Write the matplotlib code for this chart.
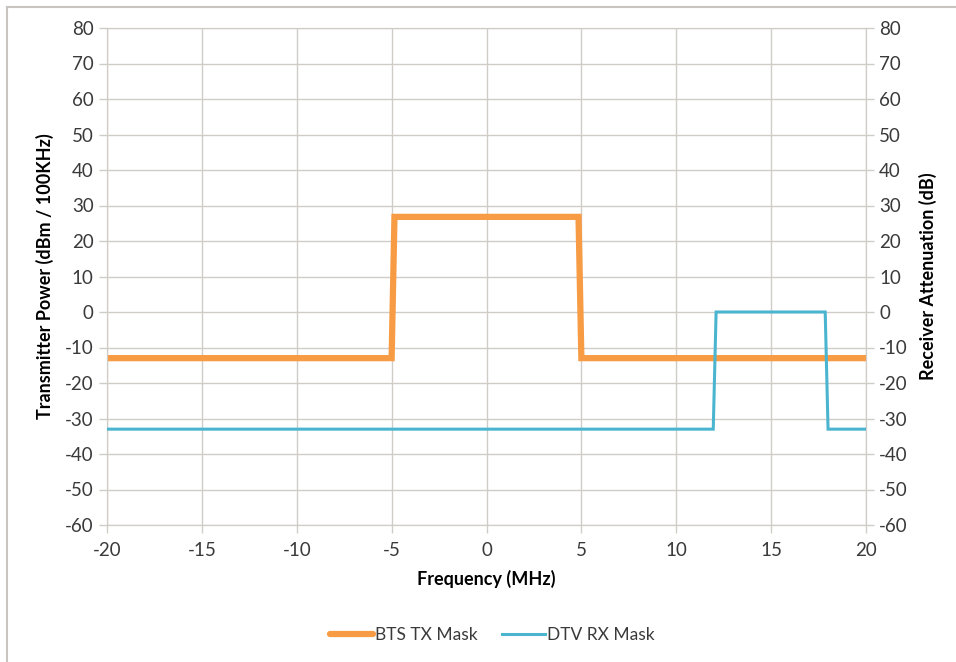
import matplotlib
matplotlib.use("Agg")
import matplotlib.pyplot as plt
from matplotlib.lines import Line2D

plt.rcParams['font.family'] = ['Lato', 'DejaVu Sans']
plt.rcParams['axes.unicode_minus'] = False

# Transmitter emission mask (dBm / 100 kHz)
bts_freq = [-20, -5, -4.85, 4.85, 5, 20]
bts_power = [-13, -13, 26.8, 26.8, -13, -13]

# Receiver attenuation mask (dB)
dtv_freq = [-20, 11.95, 12.1, 17.85, 18, 20]
dtv_atten = [-33, -33, 0, 0, -33, -33]

x_ticks = list(range(-20, 21, 5))
y_ticks = list(range(-60, 81, 10))

orange = '#f79b45'
blue = '#4bb5d0'
grid_c = '#d0ccc8'
text_c = '#3a3a3a'

fig = plt.figure(figsize=(9.56, 6.62), dpi=100)
ax = fig.add_axes([107/956, 1-525/662, (866-107)/956, (525-28)/662])
ax2 = ax.twinx()

ax.plot(bts_freq, bts_power, color=orange, lw=4.5, solid_joinstyle='miter', zorder=3)
ax2.plot(dtv_freq, dtv_atten, color=blue, lw=2.2, solid_joinstyle='miter', zorder=3)

for a in (ax, ax2):
    a.set_xlim(-20, 20)
    a.set_ylim(-60, 80)
    a.set_yticks(y_ticks)
    for s in a.spines.values():
        s.set_color(grid_c)
    a.tick_params(colors=grid_c, labelcolor=text_c, labelsize=13.5, length=6, width=1)
ax.set_xticks(x_ticks)
ax.set_xticklabels([str(t) for t in x_ticks])
ax.grid(True, color=grid_c, lw=1)
ax.set_axisbelow(True)
ax.tick_params(axis='x', pad=6)

ax.set_xlabel('Frequency (MHz)', fontsize=13, fontweight='bold', color='black', labelpad=8)
ax.set_ylabel('Transmitter Power (dBm / 100KHz)', fontsize=13, fontweight='bold', color='black', labelpad=8)
ax2.set_ylabel('Receiver Attenuation (dB)', fontsize=13, fontweight='bold', color='black', labelpad=8)

handles = [Line2D([], [], color=orange, lw=4.5, solid_capstyle='round'),
           Line2D([], [], color=blue, lw=2.2)]
fig.legend(handles, ['BTS TX Mask', 'DTV RX Mask'], loc='center', bbox_to_anchor=(0.515, 1-635/662),
           ncol=2, frameon=False, fontsize=12.5, handlelength=2.5, handletextpad=0.1,
           columnspacing=1.4, labelcolor=text_c)

# outer frame
fig.add_artist(Line2D([6.5/956, 6.5/956], [0, 1-6.5/662], transform=fig.transFigure, color='#c8c4c0', lw=1.5))
fig.add_artist(Line2D([6.5/956, 1], [1-6.5/662, 1-6.5/662], transform=fig.transFigure, color='#c8c4c0', lw=1.5))

fig.savefig('out.png', dpi=100)
